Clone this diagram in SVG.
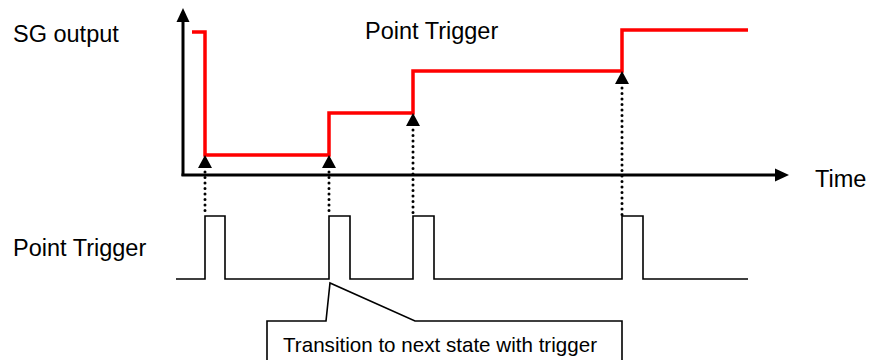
<svg xmlns="http://www.w3.org/2000/svg" width="879" height="360" viewBox="0 0 879 360">
<style>
.lbl{font-family:"Liberation Sans",Arial,sans-serif;font-size:23.5px;fill:#000}
.call{font-family:"Liberation Sans",Arial,sans-serif;font-size:20.6px;fill:#000}
.axis{stroke:#000;stroke-width:3;fill:none}
.red{stroke:#ff0000;stroke-width:3.5;fill:none}
.pulse{stroke:#000;stroke-width:1.6;fill:none}
.dot{stroke:#000;stroke-width:3;stroke-linecap:round;stroke-dasharray:0 5.5;fill:none}
.head{fill:#000}
</style>
<rect width="879" height="360" fill="#fff"/>
<g id="axes">
<line class="axis" x1="183" y1="176" x2="183" y2="20"/>
<polygon class="head" points="183,8 176.5,22 189.5,22"/>
<line class="axis" x1="181.5" y1="175" x2="777" y2="175"/>
<polygon class="head" points="789,175 775,168.5 775,181.5"/>
</g>
<g id="sg-output">
<polyline class="red" points="192,32 205,32 205,155 329,155 329,113 413,113 413,71 622,71 622,30 748,30"/>
</g>
<g id="point-trigger-signal">
<polyline class="pulse" points="176,279 205,279 205,216 225,216 225,279 329,279 329,216 350,216 350,279 413,279 413,216 434,216 434,279 622,279 622,216 643,216 643,279 748,279"/>
</g>
<g id="connectors">
<line class="dot" x1="205" y1="172" x2="205" y2="216"/>
<polygon class="head" points="205,155 198,168 212,168"/>
<line class="dot" x1="329" y1="172" x2="329" y2="216"/>
<polygon class="head" points="329,155 322,168 336,168"/>
<line class="dot" x1="413" y1="130" x2="413" y2="216"/>
<polygon class="head" points="413,113 406,126 420,126"/>
<line class="dot" x1="622" y1="88" x2="622" y2="216"/>
<polygon class="head" points="622,71 615,84 629,84"/>
</g>
<g id="callout">
<path d="M267,361 L267,321 L326,321 L330,283 L415,321 L622,321 L622,361" fill="#fff" stroke="#000" stroke-width="1.6"/>
<text class="call" x="283" y="352">Transition to next state with trigger</text>
</g>
<g id="labels">
<text class="lbl" x="13" y="42">SG output</text>
<text class="lbl" x="365" y="39">Point Trigger</text>
<text class="lbl" x="13" y="256">Point Trigger</text>
<text class="lbl" x="815" y="187">Time</text>
</g>
</svg>
